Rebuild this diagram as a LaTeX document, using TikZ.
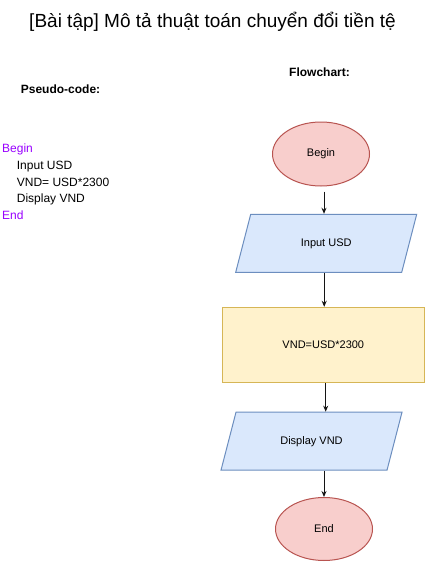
\documentclass[tikz,border=0pt]{standalone}
\usepackage{fontspec}
\setmainfont{Liberation Sans}
\usepackage{xcolor}
\usepackage{tikz}
\usetikzlibrary{arrows.meta,shapes.geometric}
\definecolor{figline}{RGB}{20,20,20}
\definecolor{termfill}{RGB}{248,206,204}
\definecolor{termline}{RGB}{184,84,80}
\definecolor{iofill}{RGB}{218,232,252}
\definecolor{ioline}{RGB}{108,142,191}
\definecolor{procfill}{RGB}{255,242,204}
\definecolor{procline}{RGB}{214,182,86}
\definecolor{codekw}{RGB}{153,0,255}
\tikzset{
  term/.style ={ellipse, draw=termline, fill=termfill, line width=1pt,
                minimum width=97pt, minimum height=64pt, inner sep=0pt,
                font=\fontsize{11}{13}\selectfont},
  io/.style   ={trapezium, trapezium left angle=75.5, trapezium right angle=104.5,
                trapezium stretches body, draw=ioline, fill=iofill, line width=1pt,
                text height=8pt, text depth=2pt, inner xsep=0pt, inner ysep=24pt,
                minimum width=181pt, font=\fontsize{11}{13}\selectfont},
  proc/.style ={rectangle, draw=procline, fill=procfill, line width=1pt,
                minimum width=202pt, minimum height=75pt, inner sep=0pt,
                font=\fontsize{11}{13}\selectfont},
  flow/.style ={draw=figline, line width=1pt, -{Stealth[length=6pt,width=5pt]}},
  code/.style ={anchor=base west, inner sep=0pt, font=\fontsize{12}{14}\selectfont},
  kw/.style   ={code, text=codekw},
  head/.style ={anchor=base west, inner sep=0pt, font=\fontsize{12}{14}\selectfont\bfseries},
}

\begin{document}
\begin{tikzpicture}[x=1pt,y=-1pt]
  \useasboundingbox[fill=white] (0,0) rectangle (425,562);
  \node[inner sep=0pt, font=\fontsize{19}{23}\selectfont] (title) at (212.5,22)
    {[Bài tập] Mô tả thuật toán chuyển đổi tiền tệ};
  \node[head] (pshead) at (20.7,93) {Pseudo-code:};
  \node[head] (fchead) at (289,76.5) {Flowchart:};
  % pseudo-code
  \node[kw]   (pbegin) at (2,152.7)    {Begin};
  \node[code] (pin)    at (16.7,169.4) {Input USD};
  \node[code] (pcalc)  at (16.7,186.1) {VND= USD*2300};
  \node[code] (pout)   at (16.7,202.8) {Display VND};
  \node[kw]   (pend)   at (2,219.5)    {End};
  % flowchart
  \node[term] (begin) at (321,154)     {Begin};
  \node[io]   (input) at (326.2,243.3) {Input USD};
  \node[proc] (calc)  at (323.3,344.8) {VND=USD*2300};
  \node[io]   (disp)  at (311.5,441.2) {Display VND};
  \node[term, minimum height=63pt] (stop) at (324,529) {End};
  \draw[flow, shorten <=5pt] ([xshift=3pt]begin.south) -- ([xshift=3pt]begin.south |- input.north);
  \draw[flow] ([xshift=-2pt]input.south) -- ([xshift=-2pt]input.south |- calc.north);
  \draw[flow] ([xshift=2.4pt]calc.south) -- ([xshift=2.4pt]calc.south |- disp.north);
  \draw[flow] (stop.north |- disp.south) -- (stop.north);
\end{tikzpicture}
\end{document}
